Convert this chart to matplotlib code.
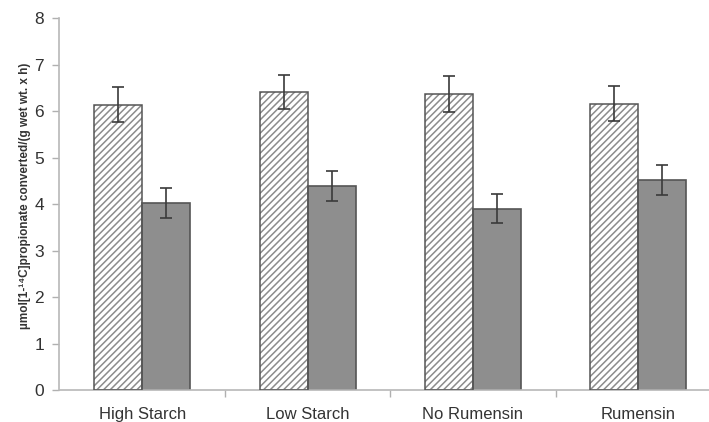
import numpy as np
import matplotlib
matplotlib.use('Agg')
import matplotlib.pyplot as plt

categories = ['High Starch', 'Low Starch', 'No Rumensin', 'Rumensin']
hatched_vals = [6.14, 6.41, 6.37, 6.16]
hatched_err = [0.38, 0.37, 0.39, 0.375]
solid_vals = [4.03, 4.39, 3.90, 4.52]
solid_err = [0.32, 0.315, 0.315, 0.33]
y_ticks = [0, 1, 2, 3, 4, 5, 6, 7, 8]

plt.rcParams['font.family'] = ['Liberation Sans', 'DejaVu Sans']
plt.rcParams['hatch.linewidth'] = 1.1

fig = plt.figure(figsize=(7.09, 4.22), dpi=100)
ax = fig.add_axes([59.5 / 709, 32 / 422, 661.5 / 709, 371.7 / 422])

x = np.arange(len(categories))
w = 0.29
edge = '#555555'
err_kw = dict(ecolor='#3a3a3a', elinewidth=1.2, capsize=4, capthick=1.2)

# hatched bars: hatch drawn in grey, outline drawn separately in darker grey
ax.bar(x - w / 2, hatched_vals, w, color='white', edgecolor='#8c8c8c',
       hatch='/////', linewidth=0, zorder=2)
ax.bar(x - w / 2, hatched_vals, w, fill=False, edgecolor=edge,
       linewidth=1.1, zorder=3)
ax.errorbar(x - w / 2, hatched_vals, yerr=hatched_err, fmt='none', zorder=4, **err_kw)

ax.bar(x + w / 2, solid_vals, w, color='#8e8e8e', edgecolor=edge,
       linewidth=1.2, zorder=2)
ax.errorbar(x + w / 2, solid_vals, yerr=solid_err, fmt='none', zorder=4, **err_kw)

ax.set_xlim(-0.5, len(categories) - 0.5)
ax.set_ylim(0, 8)
ax.set_yticks(y_ticks)

ax.set_xticks(x)
ax.set_xticklabels(categories, fontsize=12, color='#333333')
ax.set_xticks(x[:-1] + 0.5, minor=True)
ax.tick_params(axis='x', which='major', length=0, pad=12)
ax.tick_params(axis='x', which='minor', length=5, color='#b0b0b0', width=1)
ax.tick_params(axis='y', length=5, color='#b0b0b0', width=1, pad=6,
               labelsize=12.5, labelcolor='#333333')

for s in ['top', 'right']:
    ax.spines[s].set_visible(False)
for s in ['left', 'bottom']:
    ax.spines[s].set_color('#b8b8b8')
    ax.spines[s].set_linewidth(1.2)

ax.set_ylabel('µmol[1-¹⁴C]propionate converted/(g wet wt. x h)',
              fontsize=8.5, fontweight='bold', color='#333333', va='center')
ax.yaxis.set_label_coords(-0.052, 0.522)

fig.savefig('out.png', dpi=100)
